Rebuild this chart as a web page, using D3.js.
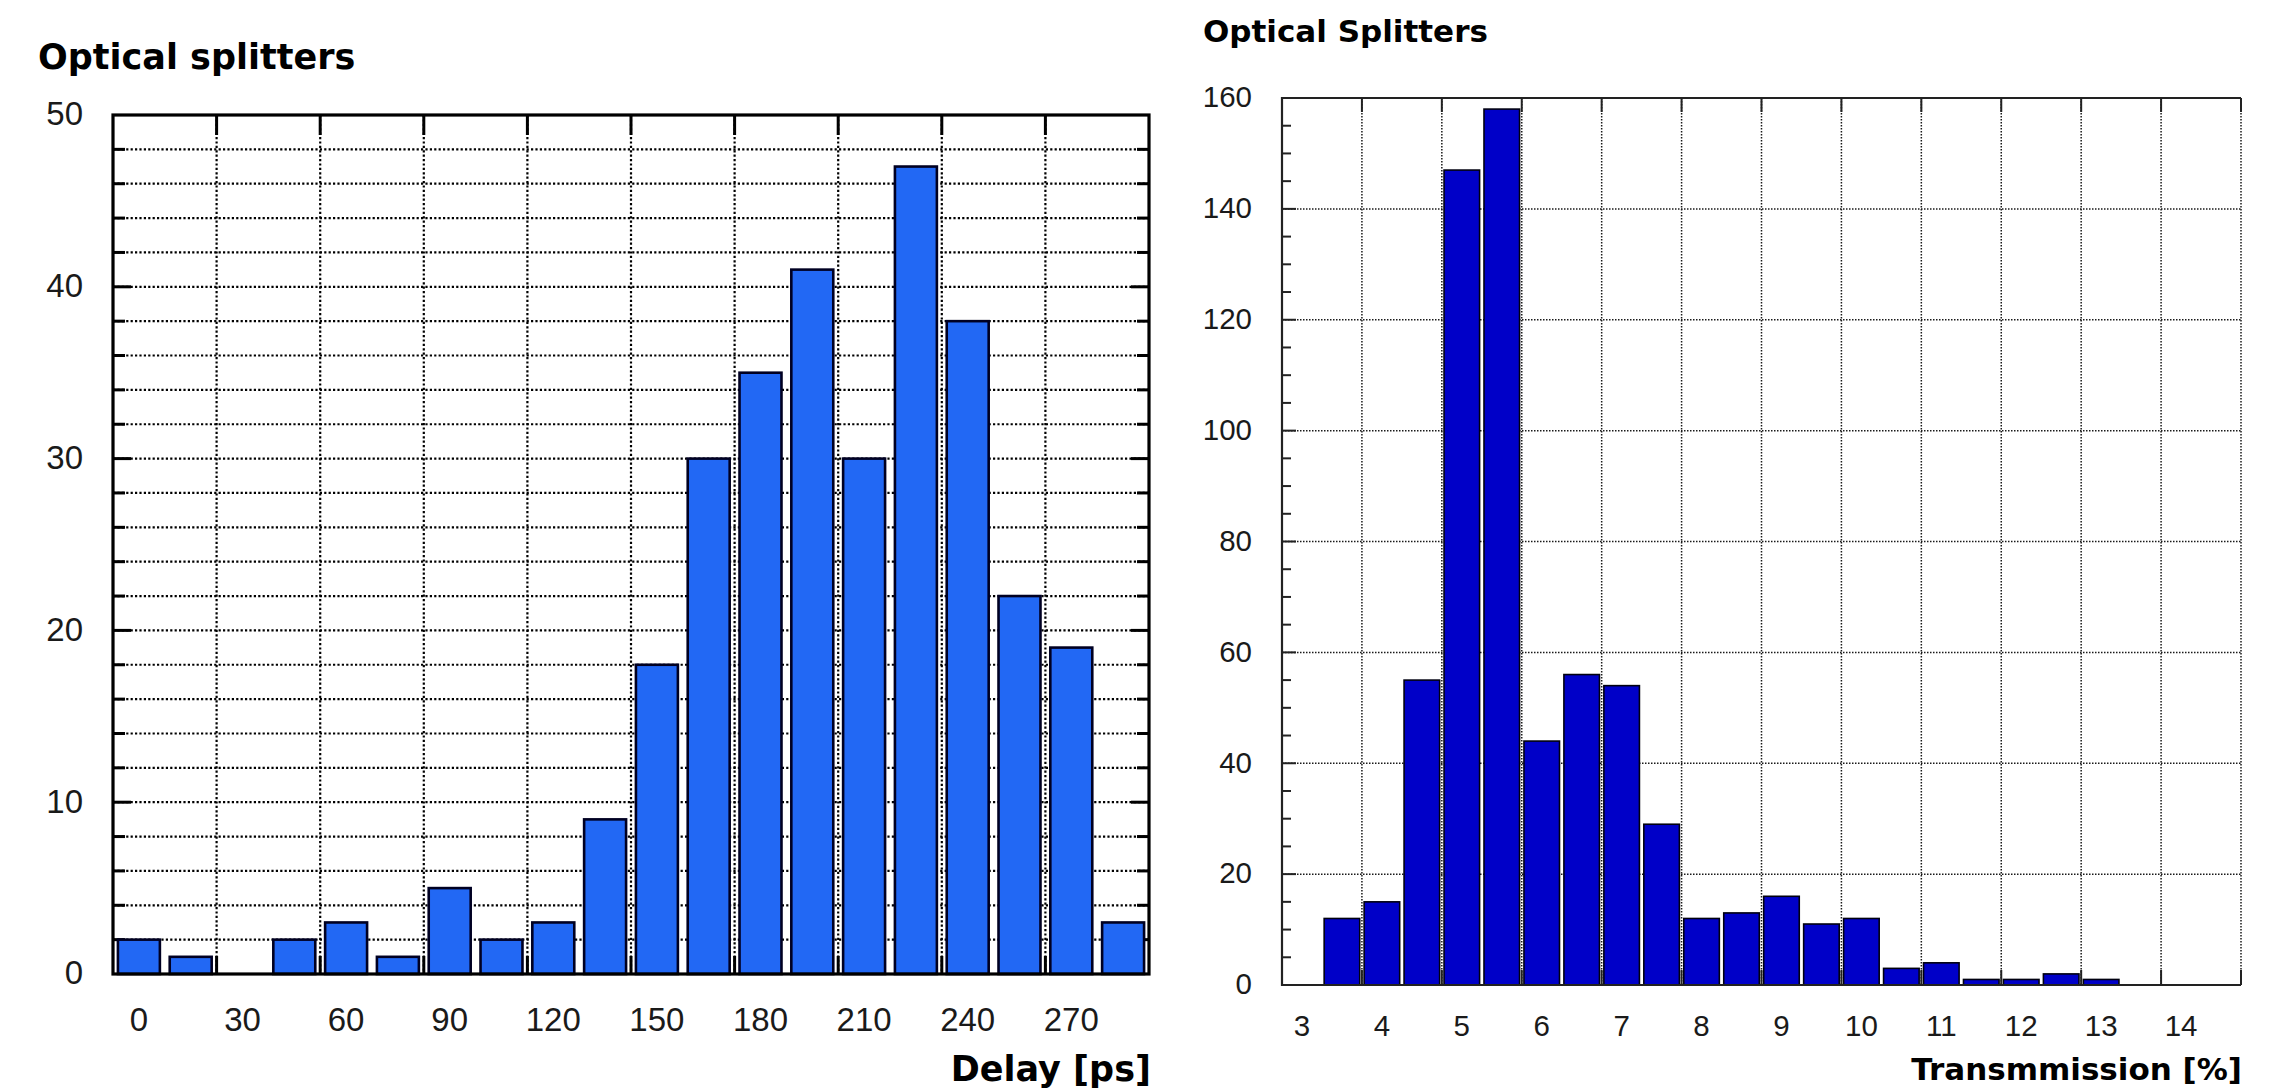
<!DOCTYPE html>
<html>
<head>
<meta charset="utf-8">
<script src="https://cdn.jsdelivr.net/npm/d3@7"></script>
<style>
  html, body { margin: 0; padding: 0; background: #fff; }
  svg { display: block; }
</style>
</head>
<body>
<svg id="chart" width="2290" height="1091"></svg>
<script>
// ---------- Data ----------
const delayTitle = "Optical splitters";
const delayAxisTitle = "Delay [ps]";
const delayBins = [0,15,30,45,60,75,90,105,120,135,150,165,180,195,210,225,240,255,270,285];
const delayCounts = [2,1,0,2,3,1,5,2,3,9,18,30,35,41,30,47,38,22,19,3];
const delayXTicks = [0,30,60,90,120,150,180,210,240,270];
const delayYTicks = [0,10,20,30,40,50];

const transTitle = "Optical Splitters";
const transAxisTitle = "Transmmission [%]";
const transBins = [3,3.5,4,4.5,5,5.5,6,6.5,7,7.5,8,8.5,9,9.5,10,10.5,11,11.5,12,12.5,13,13.5,14,14.5];
const transCounts = [0,12,15,55,147,158,44,56,54,29,12,13,16,11,12,3,4,1,1,2,1,0,0,0];
const transXTicks = [3,4,5,6,7,8,9,10,11,12,13,14];
const transYTicks = [0,20,40,60,80,100,120,140,160];

const svg = d3.select("#chart");

// ---------- Left chart ----------
(function () {
  const L = 113, R = 1149, T = 115, B = 974;
  const g = svg.append("g");
  const xPos = d3.scaleBand().domain(delayBins).range([L, R]).padding(0);
  const xBar = d3.scaleBand().domain(delayBins).range([L, R]).paddingInner(0.19).paddingOuter(0.095);
  const y = d3.scaleLinear().domain([0, 50]).range([B, T]);
  const step = xPos.step();

  const minorY = d3.range(2, 50, 2);
  const gridX = d3.range(2, delayBins.length, 2).map(i => L + i * step);

  g.selectAll(".hg").data(minorY).join("line")
    .attr("x1", L).attr("x2", R)
    .attr("y1", d => y(d)).attr("y2", d => y(d))
    .attr("stroke", "#000").attr("stroke-width", 2.2).attr("stroke-dasharray", "2.2,2.2");
  g.selectAll(".vg").data(gridX).join("line")
    .attr("x1", d => d).attr("x2", d => d)
    .attr("y1", T).attr("y2", B)
    .attr("stroke", "#000").attr("stroke-width", 2.2).attr("stroke-dasharray", "2.2,2.2");

  g.selectAll(".tl").data(minorY).join("line")
    .attr("x1", L).attr("x2", d => L + (d % 10 === 0 ? 18 : 12))
    .attr("y1", d => y(d)).attr("y2", d => y(d))
    .attr("stroke", "#000").attr("stroke-width", 3);
  g.selectAll(".tr").data(minorY).join("line")
    .attr("x1", R).attr("x2", d => R - (d % 10 === 0 ? 18 : 12))
    .attr("y1", d => y(d)).attr("y2", d => y(d))
    .attr("stroke", "#000").attr("stroke-width", 3);
  g.selectAll(".tt").data(gridX).join("line")
    .attr("x1", d => d).attr("x2", d => d).attr("y1", T).attr("y2", T + 20)
    .attr("stroke", "#000").attr("stroke-width", 3);
  g.selectAll(".tb").data(gridX).join("line")
    .attr("x1", d => d).attr("x2", d => d).attr("y1", B).attr("y2", B - 18)
    .attr("stroke", "#000").attr("stroke-width", 3);

  g.selectAll(".bar").data(delayBins.map((b, i) => ({ b, v: delayCounts[i] })).filter(d => d.v > 0))
    .join("rect")
    .attr("x", d => xBar(d.b)).attr("width", xBar.bandwidth())
    .attr("y", d => y(d.v)).attr("height", d => B - y(d.v))
    .attr("fill", "#2268f4").attr("stroke", "#000022").attr("stroke-width", 2.6);

  g.append("rect").attr("x", L).attr("y", T).attr("width", R - L).attr("height", B - T)
    .attr("fill", "none").attr("stroke", "#000").attr("stroke-width", 3.2);

  const yAxis = d3.axisLeft(y).tickValues(delayYTicks).tickSize(0).tickPadding(30);
  const ya = g.append("g").attr("transform", `translate(${L},0)`).call(yAxis);
  ya.select(".domain").remove();
  ya.selectAll("text").attr("font-family", "'Liberation Sans', Arial, sans-serif")
    .attr("font-size", 33).attr("fill", "#1a1a1a").attr("dy", "0.3em");

  const xAxis = d3.axisBottom(xPos).tickValues(delayXTicks).tickSize(0).tickPadding(34);
  const xa = g.append("g").attr("transform", `translate(0,${B})`).call(xAxis);
  xa.select(".domain").remove();
  xa.selectAll("text").attr("font-family", "'Liberation Sans', Arial, sans-serif")
    .attr("font-size", 33).attr("fill", "#1a1a1a").attr("dy", "0.71em");

  g.append("text").attr("x", 38).attr("y", 69).text(delayTitle)
    .attr("font-family", "'DejaVu Sans', Verdana, sans-serif").attr("font-weight", "bold")
    .attr("font-size", 35).attr("fill", "#000");
  g.append("text").attr("x", R + 2).attr("y", 1081).attr("text-anchor", "end").text(delayAxisTitle)
    .attr("font-family", "'DejaVu Sans', Verdana, sans-serif").attr("font-weight", "bold")
    .attr("font-size", 35).attr("fill", "#000");
})();

// ---------- Right chart ----------
(function () {
  const L = 1282, R = 2241, T = 98, B = 985;
  const g = svg.append("g");
  const xPos = d3.scaleBand().domain(transBins).range([L, R]).padding(0);
  const xBar = d3.scaleBand().domain(transBins).range([L, R]).paddingInner(0.11).paddingOuter(0.055);
  const y = d3.scaleLinear().domain([0, 160]).range([B, T]);
  const step = xPos.step();

  const gridY = d3.range(20, 160, 20);
  const minorY = d3.range(5, 160, 5);
  const gridX = d3.range(2, transBins.length + 1, 2).map(i => L + i * step);

  const gridCol = "#1a1a1a";
  g.selectAll(".hg").data(gridY).join("line")
    .attr("x1", L).attr("x2", R)
    .attr("y1", d => y(d)).attr("y2", d => y(d))
    .attr("stroke", gridCol).attr("stroke-width", 1.5).attr("stroke-dasharray", "1.5,1.5");
  g.selectAll(".vg").data(gridX).join("line")
    .attr("x1", d => d).attr("x2", d => d)
    .attr("y1", T).attr("y2", B)
    .attr("stroke", gridCol).attr("stroke-width", 1.5).attr("stroke-dasharray", "1.5,1.5");

  g.selectAll(".tl").data(minorY).join("line")
    .attr("x1", L).attr("x2", d => L + (d % 20 === 0 ? 14 : 9))
    .attr("y1", d => y(d)).attr("y2", d => y(d))
    .attr("stroke", "#222").attr("stroke-width", 2);
  g.selectAll(".tt").data(gridX).join("line")
    .attr("x1", d => d).attr("x2", d => d).attr("y1", T).attr("y2", T + 14)
    .attr("stroke", "#222").attr("stroke-width", 2);
  g.selectAll(".tb").data(gridX).join("line")
    .attr("x1", d => d).attr("x2", d => d).attr("y1", B).attr("y2", B - 15)
    .attr("stroke", "#222").attr("stroke-width", 2);

  g.selectAll(".bar").data(transBins.map((b, i) => ({ b, v: transCounts[i] })).filter(d => d.v > 0))
    .join("rect")
    .attr("x", d => xBar(d.b)).attr("width", xBar.bandwidth())
    .attr("y", d => y(d.v)).attr("height", d => B - y(d.v))
    .attr("fill", "#0000c8").attr("stroke", "#000010").attr("stroke-width", 1.6);

  g.append("path")
    .attr("d", `M${R},${T}H${L}V${B}H${R}`)
    .attr("fill", "none").attr("stroke", "#222").attr("stroke-width", 2.2);

  const yAxis = d3.axisLeft(y).tickValues(transYTicks).tickSize(0).tickPadding(30);
  const ya = g.append("g").attr("transform", `translate(${L},0)`).call(yAxis);
  ya.select(".domain").remove();
  ya.selectAll("text").attr("font-family", "'Liberation Sans', Arial, sans-serif")
    .attr("font-size", 29.5).attr("fill", "#1a1a1a").attr("dy", "0.3em");

  const xAxis = d3.axisBottom(xPos).tickValues(transXTicks).tickSize(0).tickPadding(30);
  const xa = g.append("g").attr("transform", `translate(0,${B})`).call(xAxis);
  xa.select(".domain").remove();
  xa.selectAll("text").attr("font-family", "'Liberation Sans', Arial, sans-serif")
    .attr("font-size", 29.5).attr("fill", "#1a1a1a").attr("dy", "0.71em");

  g.append("text").attr("x", 1203).attr("y", 42).text(transTitle)
    .attr("font-family", "'DejaVu Sans', Verdana, sans-serif").attr("font-weight", "bold")
    .attr("font-size", 31).attr("fill", "#000");
  g.append("text").attr("x", R + 1).attr("y", 1080).attr("text-anchor", "end").text(transAxisTitle)
    .attr("font-family", "'DejaVu Sans', Verdana, sans-serif").attr("font-weight", "bold")
    .attr("font-size", 31).attr("fill", "#000");
})();
</script>
</body>
</html>
